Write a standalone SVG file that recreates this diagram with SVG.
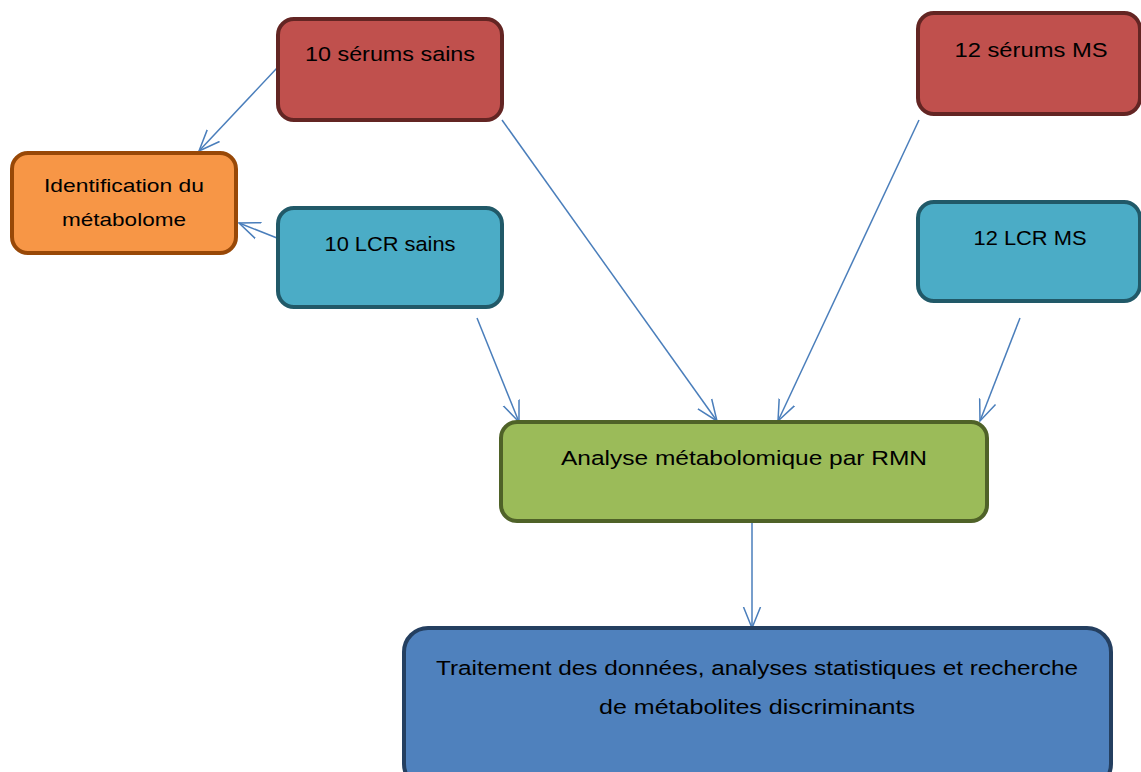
<svg xmlns="http://www.w3.org/2000/svg" width="1141" height="772" viewBox="0 0 1141 772">
<style>
.t{font-family:"Liberation Sans",Arial,sans-serif;font-size:20.5px;fill:#000;text-anchor:middle}
.s{font-size:19px}
.red{fill:#C0504D;stroke:#632523;stroke-width:4}
.cy{fill:#4BACC6;stroke:#215968;stroke-width:4}
.or{fill:#F79646;stroke:#984807;stroke-width:4}
.gr{fill:#9BBB59;stroke:#4F6228;stroke-width:4}
.bl{fill:#4F81BD;stroke:#243F60;stroke-width:4}
.c{stroke:#4A7EBB;stroke-width:1.5;fill:none}
</style>
<defs>
<marker id="a" markerUnits="userSpaceOnUse" markerWidth="24" markerHeight="20" refX="21" refY="10" orient="auto" viewBox="0 0 24 20">
<path d="M0,1.5 L21,10 L0,18.5" fill="none" stroke="#4A7EBB" stroke-width="1.5"/>
</marker>
</defs>
<g id="connectors">
<line class="c" x1="277" y1="68" x2="199" y2="151" marker-end="url(#a)"/>
<line class="c" x1="277" y1="238" x2="239" y2="223" marker-end="url(#a)"/>
<line class="c" x1="477" y1="318" x2="519" y2="422" marker-end="url(#a)"/>
<line class="c" x1="502" y1="120" x2="717" y2="421" marker-end="url(#a)"/>
<line class="c" x1="919" y1="120" x2="778" y2="421" marker-end="url(#a)"/>
<line class="c" x1="1020" y1="318" x2="980" y2="421" marker-end="url(#a)"/>
<line class="c" x1="752" y1="522" x2="752" y2="628" marker-end="url(#a)"/>
</g>
<g id="n-serums-sains"><rect class="red" x="278" y="19" width="224" height="101" rx="16"/><text class="t" x="390" y="61" textLength="170" lengthAdjust="spacingAndGlyphs">10 sérums sains</text></g>
<g id="n-serums-ms"><rect class="red" x="918" y="13" width="222" height="101" rx="16"/><text class="t" x="1031" y="57" textLength="153" lengthAdjust="spacingAndGlyphs">12 sérums MS</text></g>
<g id="n-identification"><rect class="or" x="12" y="153" width="224" height="100" rx="16"/><text class="t s" x="124" y="192" textLength="160" lengthAdjust="spacingAndGlyphs">Identification du</text><text class="t s" x="124" y="226" textLength="124" lengthAdjust="spacingAndGlyphs">métabolome</text></g>
<g id="n-lcr-sains"><rect class="cy" x="278" y="208" width="224" height="99" rx="16"/><text class="t" x="390" y="251" textLength="131" lengthAdjust="spacingAndGlyphs">10 LCR sains</text></g>
<g id="n-lcr-ms"><rect class="cy" x="918" y="202" width="222" height="99" rx="16"/><text class="t" x="1030" y="245" textLength="113" lengthAdjust="spacingAndGlyphs">12 LCR MS</text></g>
<g id="n-analyse"><rect class="gr" x="501" y="422" width="486" height="99" rx="16"/><text class="t" x="744" y="465" textLength="366" lengthAdjust="spacingAndGlyphs">Analyse métabolomique par RMN</text></g>
<g id="n-traitement"><rect class="bl" x="404" y="628" width="707" height="160" rx="24"/><text class="t" x="757" y="675" textLength="642" lengthAdjust="spacingAndGlyphs">Traitement des données, analyses statistiques et recherche</text><text class="t" x="757" y="714" textLength="316" lengthAdjust="spacingAndGlyphs">de métabolites discriminants</text></g>
</svg>
